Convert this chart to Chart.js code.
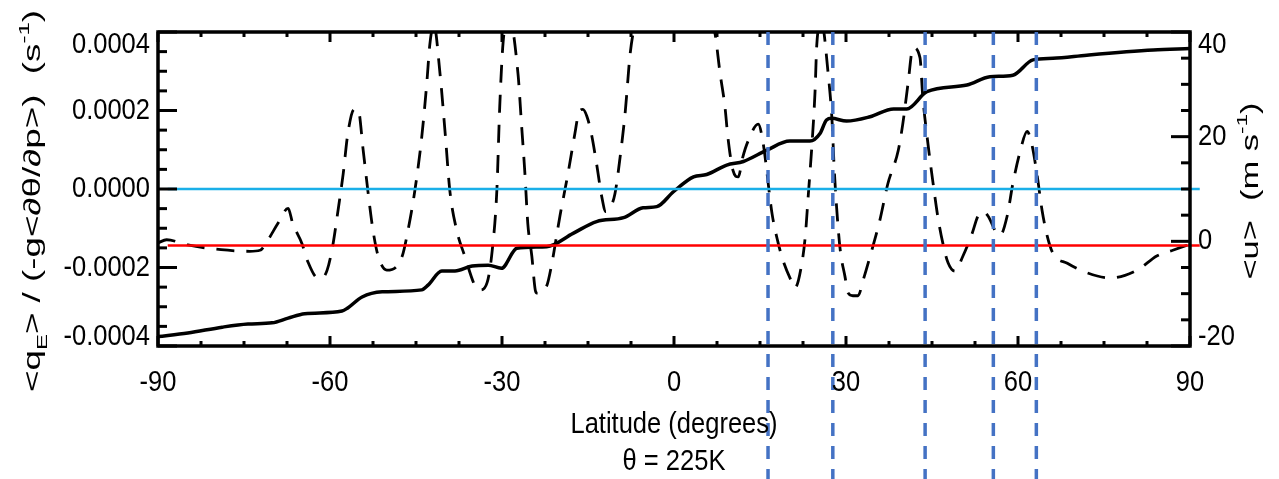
<!DOCTYPE html>
<html><head><meta charset="utf-8">
<script src="https://cdn.jsdelivr.net/npm/chart.js@4.4.1/dist/chart.umd.min.js"></script>
<style>html,body{margin:0;padding:0;background:#fff;overflow:hidden}#wrap{width:1279px;height:479px;position:relative}</style>
</head><body><div id="wrap"><canvas id="c"></canvas></div>
<script>
// ---- data ----
const solidLat = [-90,-84.8,-78.8,-74.3,-70.1,-67.3,-64.4,-57.9,-56.9,-54.4,-50.9,-44.0,-42.9,-40.5,-38.2,-35.2,-32.4,-30.1,-27.4,-22.2,-17.6,-13.5,-8.8,-5.4,-3.0,-0.1,3.4,5.7,9.2,12.1,16.2,20.2,23.7,25.5,26.6,27.5,30.1,34.2,38.3,40.6,44.1,51.1,55.1,59.1,62.6,66.1,72.0,83.6,90];
// <qE>/(-g<dθ/dp>) in units of 1e-4 s^-1
const solidVal = [-3.76,-3.67,-3.52,-3.44,-3.41,-3.29,-3.18,-3.11,-3.03,-2.75,-2.62,-2.57,-2.45,-2.09,-2.09,-1.96,-1.94,-2.02,-1.51,-1.47,-1.13,-0.83,-0.73,-0.48,-0.45,-0.07,0.31,0.37,0.61,0.70,0.99,1.22,1.22,1.42,1.76,1.80,1.73,1.84,2.04,2.04,2.48,2.65,2.86,2.90,3.29,3.33,3.41,3.54,3.58];
const solidUnit = 1e-4;
const dashLat = [-90,-88.5,-84.8,-79,-74,-72.2,-70.8,-69.1,-67.3,-66.5,-64.9,-63.9,-62.1,-61.4,-60.5,-59.5,-58.6,-57.7,-56.9,-55.8,-55.1,-54.2,-53.4,-52.5,-51.6,-50.1,-47.4,-46.4,-45.2,-44.0,-43.1,-42.6,-41.9,-40.8,-39.9,-39.1,-37.9,-36.5,-34.7,-33.8,-32.6,-31.7,-30.9,-30.4,-29.8,-28.8,-27.2,-26.6,-26.0,-25.5,-24.8,-24.2,-23.9,-22.2,-21.3,-19.9,-18.5,-17.3,-16.6,-15.9,-15.2,-14.4,-13.5,-12.6,-11.9,-11.2,-10.3,-9.4,-8.5,-7.7,-7.2,-5,0,5,7.2,8.0,8.9,9.4,10.3,11.2,12.0,12.9,14.7,15.5,17.1,18.1,19.0,20.6,21.1,22.3,22.9,23.4,24.1,24.6,24.9,25.7,26.9,27.6,27.9,28.4,29.0,29.8,30.4,31.2,32.1,33.0,34.5,35.9,37.3,39.1,39.9,40.8,41.7,42.9,43.4,44.3,45.2,46.0,46.9,47.8,49.0,50.4,52.0,53.0,53.9,54.8,56.3,56.9,58.1,59.1,60.4,61.6,62.4,63.3,64.2,65.1,66.1,68.6,72.0,76.1,80.8,84.2,87.0,90];
const dashU = [-0.3,0.3,-0.7,-1.6,-1.9,-1.7,0.3,3.4,6.3,3.4,-0.4,-3.8,-7.0,-7.0,-5.5,-0.7,5.9,12.9,20.5,25.2,25.2,17.3,9.7,2.1,-2.8,-5.5,-2.8,2.1,9.7,19.9,30.5,37.5,41.5,31.9,20.5,9.7,2.1,-2.8,-8.5,-9.3,-7.9,-1.7,9.7,25.6,38.1,43,31.9,22.4,12.9,3.4,-2.8,-9.3,-9.9,-8.5,-4.2,4.8,12.9,20.5,24.6,25.2,23.9,20.5,14.8,8.5,5.7,6.3,9.1,16.1,24.8,35.3,39.4,50,60,50,39.4,32.4,25.6,19.9,13.5,12.3,16.1,19.1,22.4,19.1,5.3,0.0,-3.6,-7.9,-8.9,-4.2,1.0,8.5,19.1,28.6,37.5,42,31.9,22.4,14.8,5.9,-1.7,-6.6,-9.9,-10.4,-10.4,-7.4,-1.7,4.0,11.0,17.3,22.4,30.0,37.0,35.1,27.5,18.6,11.0,4.8,-0.4,-4.1,-5.7,-2.8,1.5,4.8,5.7,4.8,1.5,1.2,4.8,11.0,17.3,21.0,18.6,12.9,5.9,1.0,-2.3,-4.2,-6.0,-7.0,-5.5,-2.8,-1.7,-0.55];
const xTicks = [-90,-60,-30,0,30,60,90];
const leftTicks = [-0.0004,-0.0002,0,0.0002,0.0004];
const rightTicks = [-20,0,20,40];
const markerLats = [16.4,27.7,43.8,55.7,63.2];
const blueLineQ = 0;      // left axis
const redLineU = -0.8;    // right axis
const refLineLat = [-88.3,91.7];
const xTitle = 'Latitude (degrees)';
const subTitle = 'θ = 225K';

// ---- styles ----
const FONT = "'Liberation Sans',Arial,sans-serif";
const SQUEEZE = 0.88;

const pts = (xs, ys, k=1) => xs.map((x,i)=>({x, y: ys[i]*k}));

function txt(ctx,s,x,y,align){
  ctx.save(); ctx.translate(x,y); ctx.scale(SQUEEZE,1);
  ctx.font='29px '+FONT; ctx.fillStyle='#000';
  ctx.textAlign=align; ctx.textBaseline='middle'; ctx.fillText(s,0,0);
  ctx.restore();
}
function drawRich(ctx,segs,bx,cy,len,thick){
  const F=26;
  const fontFor=t=> (t? Math.round(F*0.65):F)+'px '+FONT;
  let W=0;
  segs.forEach(s=>{ctx.font=fontFor(s[1]); s.w=ctx.measureText(s[0]).width; W+=s.w;});
  ctx.save();
  ctx.translate(bx,cy); ctx.rotate(-Math.PI/2); ctx.scale(len/W,thick);
  ctx.textAlign='left'; ctx.textBaseline='alphabetic'; ctx.fillStyle='#000';
  let x=-W/2;
  segs.forEach(s=>{
    ctx.font=fontFor(s[1]);
    const dy = s[1]==='sub'? F*0.3 : s[1]==='sup'? -F*0.45 : 0;
    ctx.fillText(s[0],x,dy); x+=s.w;
  });
  ctx.restore();
}

const framePlugin = {
  id:'frame',
  afterDatasetsDraw(chart){
    const {ctx, chartArea:a, scales} = chart;
    ctx.save();
    ctx.strokeStyle='#000'; ctx.lineCap='butt';
    const ln=(x1,y1,x2,y2)=>{ctx.beginPath();ctx.moveTo(x1,y1);ctx.lineTo(x2,y2);ctx.stroke();};
    ctx.lineWidth=3;
    const xs=scales.x;
    for(let v=xs.min; v<=xs.max+1e-9; v+=7.5){
      const p=xs.getPixelForValue(v);
      const L = xTicks.includes(v)?10:5;
      ln(p,a.bottom,p,a.bottom-L); ln(p,a.top,p,a.top+L);
    }
    const ys=scales.y;
    for(let i=0;i<=16;i++){
      const v=ys.min+i*(ys.max-ys.min)/16;
      const p=ys.getPixelForValue(v);
      ln(a.left,p,a.left+(i%4===0?19:9),p);
    }
    const y1=scales.y1;
    for(let v=y1.min; v<=y1.max+1e-9; v+=5){
      const p=y1.getPixelForValue(v);
      ln(a.right,p,a.right-(rightTicks.includes(v)?19:9),p);
    }
    ctx.lineWidth=3.5;
    ctx.strokeRect(a.left,a.top,a.right-a.left,a.bottom-a.top);
    ctx.restore();
  },
  afterDraw(chart){
    const {ctx, chartArea:a, scales} = chart;
    ctx.save();
    // vertical markers
    ctx.strokeStyle='#4472C4'; ctx.lineWidth=3.5; ctx.setLineDash([13,10]);
    markerLats.forEach(l=>{
      const p=scales.x.getPixelForValue(l);
      ctx.beginPath(); ctx.moveTo(p,a.top); ctx.lineTo(p,chart.height); ctx.stroke();
    });
    ctx.setLineDash([]);
    // tick labels
    scales.x.ticks.forEach(t=>txt(ctx,String(t.value),scales.x.getPixelForValue(t.value),a.bottom+37,'center'));
    const nL=scales.y.ticks.length;
    scales.y.ticks.forEach((t,i)=>{
      let p=scales.y.getPixelForValue(t.value);
      if(i===nL-1)p+=13; if(i===0)p-=9;
      txt(ctx,t.value.toFixed(4),a.left-8,p,'right');
    });
    const nR=scales.y1.ticks.length;
    scales.y1.ticks.forEach((t,i)=>{
      let p=scales.y1.getPixelForValue(t.value);
      if(i===nR-1)p+=13; if(i===0)p-=9;
      txt(ctx,String(t.value),a.right+8,p,'left');
    });
    // x titles
    const cx=(a.left+a.right)/2;
    txt(ctx,xTitle,cx,a.bottom+79,'center');
    txt(ctx,subTitle,cx,a.bottom+116,'center');
    // rotated titles
    const cy=(a.top+a.bottom)/2;
    drawRich(ctx,[['<q'],['E','sub'],['> / (-g<∂θ/∂p>)  (s'],['-1','sup'],[')']],40,cy+12,382,0.9);
    drawRich(ctx,[['<u>  (m s'],['-1','sup'],[')']],1258,cy+2,177,0.9);
    ctx.restore();
  }
};

new Chart(document.getElementById('c'),{
  type:'line',
  data:{datasets:[
    {data:pts(refLineLat,[blueLineQ,blueLineQ]),yAxisID:'y',borderColor:'#1AAFE8',borderWidth:2.5,pointRadius:0,clip:false},
    {data:pts(refLineLat,[redLineU,redLineU]),yAxisID:'y1',borderColor:'#FF0000',borderWidth:2.5,pointRadius:0,clip:false},
    {data:pts(solidLat,solidVal,solidUnit),yAxisID:'y',borderColor:'#000',borderWidth:3.5,pointRadius:0,cubicInterpolationMode:'monotone'},
    {data:pts(dashLat,dashU),yAxisID:'y1',borderColor:'#000',borderWidth:2.8,borderDash:[18,12],pointRadius:0,cubicInterpolationMode:'monotone'}
  ]},
  options:{
    responsive:true,maintainAspectRatio:false,animation:false,
    layout:{padding:{top:32,left:0,right:0,bottom:0}},
    plugins:{legend:{display:false},tooltip:{enabled:false}},
    events:[],
    scales:{
      x:{type:'linear',min:-90,max:90,
        afterBuildTicks:s=>{s.ticks=xTicks.map(v=>({value:v}));},
        afterFit:s=>{s.height=133;},
        grid:{display:false},border:{display:false},ticks:{display:false}},
      y:{type:'linear',position:'left',min:-0.0004,max:0.0004,
        afterBuildTicks:s=>{s.ticks=leftTicks.map(v=>({value:v}));},
        afterFit:s=>{s.width=158;},
        grid:{display:false},border:{display:false},ticks:{display:false}},
      y1:{type:'linear',position:'right',min:-20,max:40,
        afterBuildTicks:s=>{s.ticks=rightTicks.map(v=>({value:v}));},
        afterFit:s=>{s.width=89;},
        grid:{display:false},border:{display:false},ticks:{display:false}}
    }
  },
  plugins:[framePlugin]
});
</script></body></html>
